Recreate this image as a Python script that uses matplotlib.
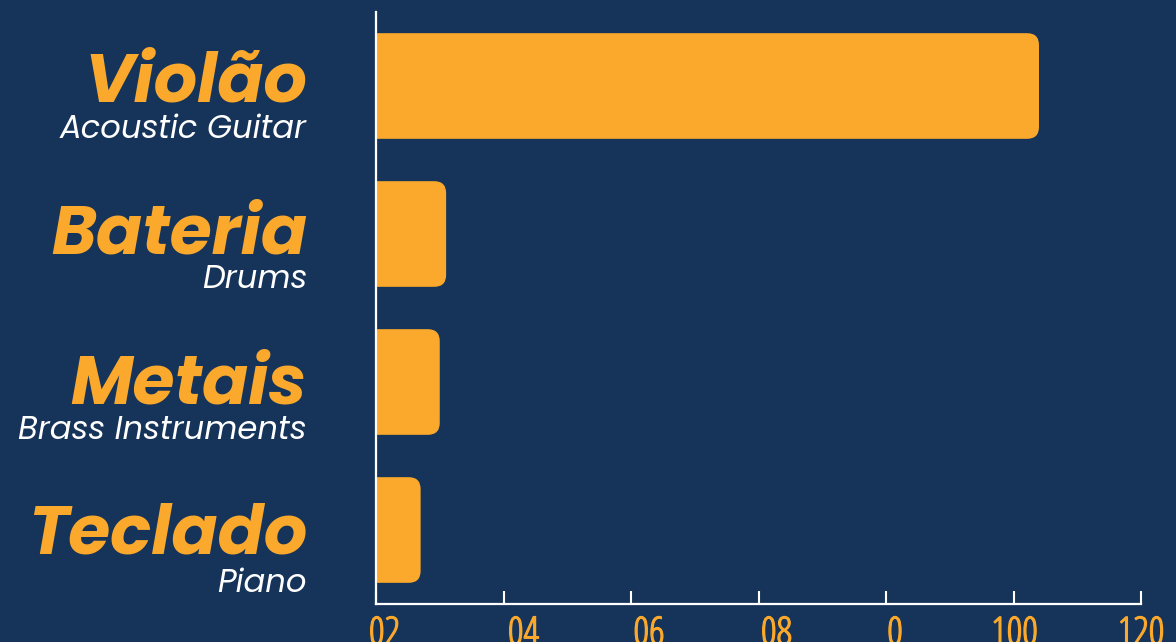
import matplotlib
matplotlib.use("Agg")
import matplotlib.pyplot as plt
import matplotlib.patheffects as pe
from matplotlib import font_manager as fm
from matplotlib.patches import FancyBboxPatch
from matplotlib.transforms import ScaledTranslation, blended_transform_factory

# ---- data ----
categories = ["Violão", "Bateria", "Metais", "Teclado"]
subtitles = ["Acoustic Guitar", "Drums", "Brass Instruments", "Piano"]
values = [104, 11, 10, 7]
tick_values = [0, 20, 40, 60, 80, 100, 120]
tick_labels = ["02", "04", "06", "08", "0", "100", "120"]

BG = "#163459"
ORANGE = "#FBA92C"
WHITE = "#FFFFFF"

names = {f.name for f in fm.fontManager.ttflist}
def pick(*cands):
    for c in cands:
        if c in names:
            return c
    return "DejaVu Sans"

head_font = pick("Poppins", "Lato", "Open Sans", "DejaVu Sans")
sub_font = pick("Poppins", "Lato", "Open Sans", "DejaVu Sans")
tick_font = pick("Open Sans", "DejaVu Sans")

W, H, DPI = 1176, 642, 100
fig = plt.figure(figsize=(W / DPI, H / DPI), dpi=DPI, facecolor=BG)
ax_l, ax_r, ax_t, ax_b = 376, 1141, 12, 604
ax = fig.add_axes([ax_l / W, (H - ax_b) / H, (ax_r - ax_l) / W, (ax_b - ax_t) / H])
ax.set_facecolor(BG)
ax.set_xlim(0, 120)
ax.set_ylim(len(categories) - 0.5, -0.5)

bar_h = 0.714
px_per_x = (ax_r - ax_l) / 120.0
px_per_y = (ax_b - ax_t) / len(categories)
radius_px = 12
r_x = radius_px / px_per_x
aspect = px_per_x / px_per_y

for i, v in enumerate(values):
    p = FancyBboxPatch((-5, i - bar_h / 2), v + 5, bar_h,
                       boxstyle=f"round,pad=0,rounding_size={r_x}",
                       mutation_aspect=aspect,
                       facecolor=ORANGE, edgecolor="none", clip_on=True, zorder=2)
    ax.add_patch(p)

for s in ["top", "right"]:
    ax.spines[s].set_visible(False)
for s in ["left", "bottom"]:
    ax.spines[s].set_color(WHITE)
    ax.spines[s].set_linewidth(1.6)
    ax.spines[s].set_zorder(3)

ax.set_yticks([])
ax.set_xticks(tick_values)
ax.set_xticklabels(tick_labels)
ax.tick_params(axis="x", direction="in", length=9.5, width=1.5, color=WHITE,
               pad=8, labelcolor=ORANGE, labelsize=28)
offsets_px = [8.5, 20, 18, 18, 9, 1, 0]
for lab, dx in zip(ax.get_xticklabels(), offsets_px):
    lab.set_fontfamily(tick_font)
    lab.set_fontweight("medium")
    lab.set_fontstretch("condensed")
    lab.set_path_effects([pe.withStroke(linewidth=0.9, foreground=ORANGE)])
    lab.set_transform(lab.get_transform() + ScaledTranslation(dx / DPI, 0, fig.dpi_scale_trans))

label_x = (307 - ax_l) / (ax_r - ax_l)
title_off = [16, 20, 22, 24]
sub_off = [52, 54, 57, 62]
trans = blended_transform_factory(ax.transAxes, ax.transData)
for i, (c, s) in enumerate(zip(categories, subtitles)):
    t1 = trans + ScaledTranslation(0, -title_off[i] / DPI, fig.dpi_scale_trans)
    t2 = trans + ScaledTranslation(0, -sub_off[i] / DPI, fig.dpi_scale_trans)
    ax.text(label_x, i, c, transform=t1, ha="right", va="baseline",
            color=ORANGE, fontsize=49, fontweight="bold", fontstyle="italic",
            family=head_font, clip_on=False)
    ax.text(label_x, i, s, transform=t2, ha="right", va="baseline",
            color=WHITE, fontsize=23.2, fontweight="normal", fontstyle="italic",
            family=sub_font, clip_on=False)

fig.savefig("out.png", dpi=DPI, facecolor=BG)
